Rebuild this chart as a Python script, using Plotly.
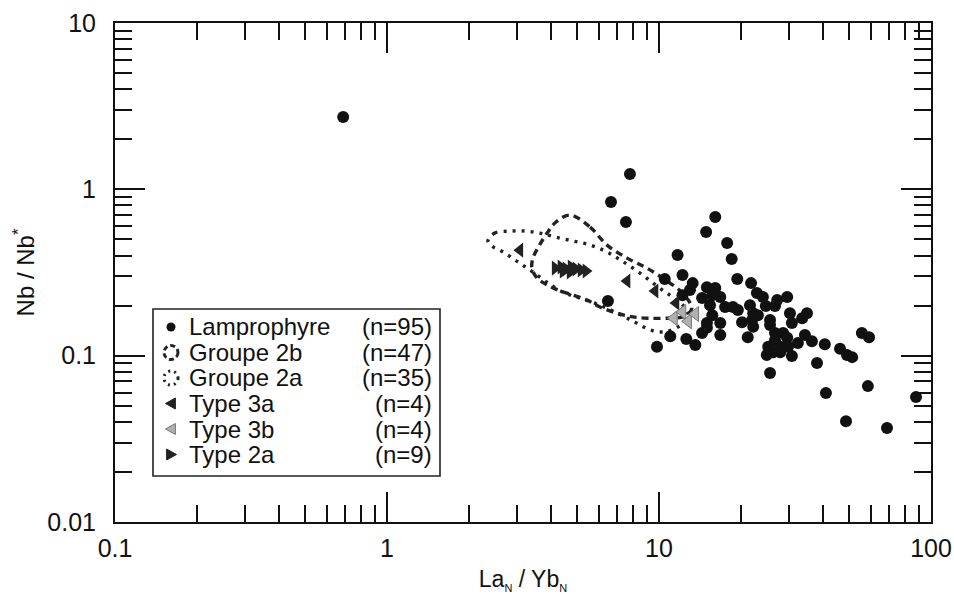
import plotly.graph_objects as go

# ---------------- data ----------------
lamp_x = [16.1, 14.9, 17.8, 11.7, 18.5, 12.2, 19.4, 21.8, 10.5, 13.3,
          13.0, 12.2, 15.0, 16.1, 15.7, 16.8, 14.4, 22.9, 24.1, 29.6,
          27.2, 15.4, 17.5, 18.7, 19.5, 21.6, 24.7, 26.7, 22.2, 23.1,
          15.7, 30.3, 35.0, 33.6, 20.2, 22.0, 25.6, 15.0, 16.8, 30.8,
          22.2, 25.6, 15.0, 14.4, 16.8, 21.2, 26.7, 28.6, 34.4, 55.7,
          59.2, 11.0, 12.6, 13.6, 9.83, 26.7, 29.6, 27.9, 29.8, 32.4,
          36.5, 40.7, 25.2, 26.3, 27.9, 24.9, 30.8, 46.3, 49.1, 51.3,
          38.1, 25.6, 41.1, 58.6, 48.7, 68.9, 88.1, 7.82, 6.66, 7.56,
          6.49, 0.69]
lamp_y = [0.681, 0.554, 0.475, 0.403, 0.381, 0.305, 0.289, 0.273, 0.289, 0.273,
          0.248, 0.231, 0.258, 0.255, 0.231, 0.225, 0.222, 0.238, 0.225, 0.225,
          0.216, 0.201, 0.196, 0.196, 0.188, 0.201, 0.199, 0.199, 0.180, 0.175,
          0.175, 0.180, 0.180, 0.168, 0.159, 0.164, 0.164, 0.157, 0.157, 0.157,
          0.149, 0.153, 0.147, 0.137, 0.133, 0.129, 0.137, 0.137, 0.133, 0.137,
          0.129, 0.131, 0.126, 0.116, 0.113, 0.124, 0.128, 0.113, 0.113, 0.119,
          0.122, 0.117, 0.113, 0.105, 0.105, 0.101, 0.0995, 0.110, 0.101, 0.098,
          0.0904, 0.0787, 0.0596, 0.0656, 0.0404, 0.0367, 0.0564, 1.236, 0.839, 0.636,
          0.213, 2.72]

g2b_x = [4.71, 5.58, 6.44, 7.63, 9.03, 10.7, 12.2, 13.2, 12.5, 10.7, 9.11, 8.02,
         7.01, 6.07, 5.44, 4.83, 4.25, 3.88, 3.56, 3.41, 3.44, 3.62, 3.88, 4.18]
g2b_y = [0.700, 0.593, 0.462, 0.386, 0.336, 0.281, 0.238, 0.193, 0.173, 0.168, 0.168, 0.171,
         0.180, 0.196, 0.216, 0.231, 0.248, 0.266, 0.293, 0.336, 0.386, 0.456, 0.546, 0.636]

g2a_x = [2.35, 2.49, 2.83, 3.22, 3.65, 4.15, 4.83, 5.58, 6.44, 7.31, 8.51, 9.83, 11.2, 12.4,
         12.8, 11.9, 10.5, 9.27, 8.16, 6.89, 5.92, 5.12, 4.44, 3.91, 3.44, 3.03, 2.67, 2.43]
g2a_y = [0.489, 0.546, 0.561, 0.561, 0.546, 0.517, 0.489, 0.463, 0.420, 0.371, 0.314, 0.262, 0.225, 0.196,
         0.173, 0.151, 0.139, 0.143, 0.159, 0.183, 0.204, 0.222, 0.241, 0.273, 0.318, 0.366, 0.420, 0.456]

t3a_x = [3.08, 7.63, 9.67, 11.55]
t3a_y = [0.431, 0.281, 0.245, 0.207]

t3b_x = [11.35, 12.2, 12.8, 13.6]
t3b_y = [0.168, 0.183, 0.161, 0.178]

t2a_x = [4.15, 4.36, 4.55, 4.75, 4.95, 5.17, 5.39, 4.71, 4.44]
t2a_y = [0.336, 0.341, 0.332, 0.341, 0.332, 0.327, 0.323, 0.318, 0.323]

legend_labels = ["Lamprophyre", "Groupe 2b", "Groupe 2a", "Type 3a", "Type 3b", "Type 2a"]
legend_counts = ["(n=95)", "(n=47)", "(n=35)", "(n=4)", "(n=4)", "(n=9)"]

x_tick_vals = [0.1, 1, 10, 100]
x_tick_text = ["0.1", "1", "10", "100"]
y_tick_vals = [0.01, 0.1, 1, 10]
y_tick_text = ["0.01", "0.1", "1", "10"]

# ---------------- figure ----------------
W, H = 954, 598
ML, MR, MT, MB = 115, 23, 23, 76
PW, PH = W - ML - MR, H - MT - MB
FONT = "Arial, Liberation Sans, sans-serif"
INK = "#111111"


def pxx(px):
    return (px - ML) / PW


def pxy(py):
    return (H - MB - py) / PH


fig = go.Figure()

fig.add_trace(go.Scatter(
    x=g2b_x + [g2b_x[0]], y=g2b_y + [g2b_y[0]], mode="lines",
    line=dict(color="#222222", width=3.4, dash="7px,5px", shape="spline", smoothing=1.0),
    showlegend=False, hoverinfo="skip"))
fig.add_trace(go.Scatter(
    x=g2a_x + [g2a_x[0]], y=g2a_y + [g2a_y[0]], mode="lines",
    line=dict(color="#222222", width=3.4, dash="3px,6px", shape="spline", smoothing=1.0),
    showlegend=False, hoverinfo="skip"))

fig.add_trace(go.Scatter(
    x=lamp_x, y=lamp_y, mode="markers", name="Lamprophyre",
    marker=dict(symbol="circle", size=12, color=INK, line=dict(width=0)),
    showlegend=False))
fig.add_trace(go.Scatter(
    x=t3a_x, y=t3a_y, mode="markers", name="Type 3a",
    marker=dict(symbol="triangle-left", size=13, color="#222222", line=dict(width=0)),
    showlegend=False))
fig.add_trace(go.Scatter(
    x=t3b_x, y=t3b_y, mode="markers", name="Type 3b",
    marker=dict(symbol="triangle-left", size=13, color="#b0b0b0", line=dict(width=1, color="#777777")),
    showlegend=False))
fig.add_trace(go.Scatter(
    x=t2a_x, y=t2a_y, mode="markers", name="Type 2a",
    marker=dict(symbol="triangle-right", size=13, color="#222222", line=dict(width=0)),
    showlegend=False))

# ---------------- custom legend (frame, symbols, texts) ----------------
LX0, LX1, LY0, LY1 = 153, 440, 309, 476
row_y = [327 + 25.5 * i for i in range(6)]
sym_x = 171

shapes = [dict(type="rect", xref="paper", yref="paper",
               x0=pxx(LX0), x1=pxx(LX1), y0=pxy(LY1), y1=pxy(LY0),
               line=dict(color="#222222", width=1.6), fillcolor="white", layer="below")]

# dot symbol (Lamprophyre)
r = 4.5
shapes.append(dict(type="circle", xref="paper", yref="paper",
                   x0=pxx(sym_x - r), x1=pxx(sym_x + r),
                   y0=pxy(row_y[0] + r), y1=pxy(row_y[0] - r),
                   fillcolor=INK, line=dict(color=INK, width=0)))
# ring symbols (Groupe 2b dashed, Groupe 2a dotted)
for i, dash in ((1, "5px,3px"), (2, "2px,4px")):
    r = 7
    shapes.append(dict(type="circle", xref="paper", yref="paper",
                       x0=pxx(sym_x - r), x1=pxx(sym_x + r),
                       y0=pxy(row_y[i] + r), y1=pxy(row_y[i] - r),
                       line=dict(color="#222222", width=3, dash=dash)))


def tri_path(cx, cy, left=True, s=5.5):
    if left:
        pts = [(cx - s, cy), (cx + s * 0.8, cy - s), (cx + s * 0.8, cy + s)]
    else:
        pts = [(cx + s, cy), (cx - s * 0.8, cy - s), (cx - s * 0.8, cy + s)]
    return "M " + " L ".join(f"{pxx(a):.5f},{pxy(b):.5f}" for a, b in pts) + " Z"


for i, left, fill, lc in ((3, True, "#222222", "#222222"),
                          (4, True, "#b0b0b0", "#777777"),
                          (5, False, "#222222", "#222222")):
    shapes.append(dict(type="path", xref="paper", yref="paper",
                       path=tri_path(sym_x, row_y[i], left),
                       fillcolor=fill, line=dict(color=lc, width=1)))

annotations = []
for i in range(6):
    annotations.append(dict(x=pxx(187), y=pxy(row_y[i]), xref="paper", yref="paper",
                            text=legend_labels[i], showarrow=False, xanchor="left", yanchor="middle",
                            font=dict(family=FONT, size=24, color=INK)))
    annotations.append(dict(x=pxx(434), y=pxy(row_y[i]), xref="paper", yref="paper",
                            text=legend_counts[i], showarrow=False, xanchor="right", yanchor="middle",
                            font=dict(family=FONT, size=24, color=INK)))

minor_x = [m * 10 ** e for e in (-1, 0, 1) for m in range(2, 10)]
minor_y = [m * 10 ** e for e in (-2, -1, 0) for m in range(2, 10)]

axis_common = dict(type="log", showgrid=False, zeroline=False, showline=True, automargin=False,
                   linecolor=INK, linewidth=2, mirror="allticks",
                   ticks="inside", ticklen=30, tickwidth=1.8, tickcolor=INK,
                   tickfont=dict(family=FONT, size=25, color=INK),
                   tickmode="array")

fig.update_layout(
    width=W, height=H,
    margin=dict(l=ML, r=MR, t=MT, b=MB, autoexpand=False),
    paper_bgcolor="white", plot_bgcolor="white",
    font=dict(family=FONT, color=INK),
    xaxis=dict(axis_common, range=[-1, 2], tickvals=x_tick_vals, ticktext=x_tick_text,
               ticklabelstandoff=3,
               minor=dict(ticks="inside", ticklen=17, tickwidth=1.6, tickcolor=INK, tickvals=minor_x),
               title=dict(text='La<sub><span style="font-size:11px">N</span></sub> / Yb<sub><span style="font-size:11px">N</span></sub>',
                          font=dict(family=FONT, size=23), standoff=10)),
    yaxis=dict(axis_common, range=[-2, 1], tickvals=y_tick_vals, ticktext=y_tick_text,
               ticklabelstandoff=12,
               minor=dict(ticks="inside", ticklen=17, tickwidth=1.6, tickcolor=INK, tickvals=minor_y),
               title=dict(text="Nb / Nb<sup>*</sup>", font=dict(family=FONT, size=24), standoff=6)),
    shapes=shapes,
    annotations=annotations,
    showlegend=False,
)

fig.write_html("out.html", config={"displayModeBar": False},
               post_script="document.body.style.margin='0';document.body.style.overflow='hidden';")
